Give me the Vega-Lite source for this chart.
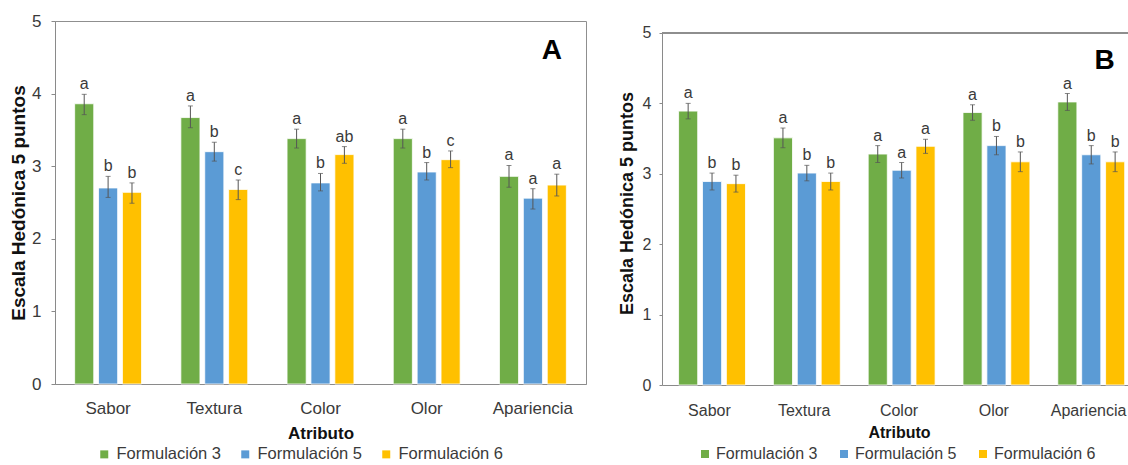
{
  "$schema": "https://vega.github.io/schema/vega-lite/v6.json",
  "background": "#ffffff",
  "padding": {"left": 9, "top": 11, "right": 0, "bottom": 0},
  "spacing": 31,
  "bounds": "full",
  "config": {
    "font": "Liberation Sans",
    "view": {"stroke": null},
    "axis": {
      "domainColor": "#8a8a8a",
      "tickColor": "#8a8a8a",
      "labelColor": "#3a3a3a",
      "titleColor": "#111111",
      "grid": false
    }
  },
  "datasets": {
    "panelA": [
      {"atributo": "Sabor", "formulacion": "Formulación 3", "media": 3.86, "inf": 3.71, "sup": 3.99, "letra": "a"},
      {"atributo": "Sabor", "formulacion": "Formulación 5", "media": 2.70, "inf": 2.57, "sup": 2.86, "letra": "b"},
      {"atributo": "Sabor", "formulacion": "Formulación 6", "media": 2.64, "inf": 2.49, "sup": 2.77, "letra": "b"},
      {"atributo": "Textura", "formulacion": "Formulación 3", "media": 3.67, "inf": 3.53, "sup": 3.83, "letra": "a"},
      {"atributo": "Textura", "formulacion": "Formulación 5", "media": 3.20, "inf": 3.07, "sup": 3.33, "letra": "b"},
      {"atributo": "Textura", "formulacion": "Formulación 6", "media": 2.68, "inf": 2.54, "sup": 2.81, "letra": "c"},
      {"atributo": "Color", "formulacion": "Formulación 3", "media": 3.38, "inf": 3.25, "sup": 3.51, "letra": "a"},
      {"atributo": "Color", "formulacion": "Formulación 5", "media": 2.77, "inf": 2.66, "sup": 2.90, "letra": "b"},
      {"atributo": "Color", "formulacion": "Formulación 6", "media": 3.16, "inf": 3.04, "sup": 3.27, "letra": "ab"},
      {"atributo": "Olor", "formulacion": "Formulación 3", "media": 3.38, "inf": 3.25, "sup": 3.51, "letra": "a"},
      {"atributo": "Olor", "formulacion": "Formulación 5", "media": 2.92, "inf": 2.81, "sup": 3.05, "letra": "b"},
      {"atributo": "Olor", "formulacion": "Formulación 6", "media": 3.09, "inf": 2.98, "sup": 3.21, "letra": "c"},
      {"atributo": "Apariencia", "formulacion": "Formulación 3", "media": 2.86, "inf": 2.71, "sup": 3.01, "letra": "a"},
      {"atributo": "Apariencia", "formulacion": "Formulación 5", "media": 2.56, "inf": 2.41, "sup": 2.69, "letra": "a"},
      {"atributo": "Apariencia", "formulacion": "Formulación 6", "media": 2.74, "inf": 2.59, "sup": 2.89, "letra": "a"}
    ],
    "panelB": [
      {"atributo": "Sabor", "formulacion": "Formulación 3", "media": 3.89, "inf": 3.78, "sup": 4.00, "letra": "a"},
      {"atributo": "Sabor", "formulacion": "Formulación 5", "media": 2.89, "inf": 2.77, "sup": 3.01, "letra": "b"},
      {"atributo": "Sabor", "formulacion": "Formulación 6", "media": 2.86, "inf": 2.74, "sup": 2.98, "letra": "b"},
      {"atributo": "Textura", "formulacion": "Formulación 3", "media": 3.51, "inf": 3.37, "sup": 3.65, "letra": "a"},
      {"atributo": "Textura", "formulacion": "Formulación 5", "media": 3.01, "inf": 2.90, "sup": 3.12, "letra": "b"},
      {"atributo": "Textura", "formulacion": "Formulación 6", "media": 2.89, "inf": 2.77, "sup": 3.01, "letra": "b"},
      {"atributo": "Color", "formulacion": "Formulación 3", "media": 3.28, "inf": 3.16, "sup": 3.40, "letra": "a"},
      {"atributo": "Color", "formulacion": "Formulación 5", "media": 3.05, "inf": 2.94, "sup": 3.16, "letra": "a"},
      {"atributo": "Color", "formulacion": "Formulación 6", "media": 3.39, "inf": 3.29, "sup": 3.49, "letra": "a"},
      {"atributo": "Olor", "formulacion": "Formulación 3", "media": 3.87, "inf": 3.76, "sup": 3.98, "letra": "a"},
      {"atributo": "Olor", "formulacion": "Formulación 5", "media": 3.40, "inf": 3.27, "sup": 3.53, "letra": "b"},
      {"atributo": "Olor", "formulacion": "Formulación 6", "media": 3.17, "inf": 3.03, "sup": 3.31, "letra": "b"},
      {"atributo": "Apariencia", "formulacion": "Formulación 3", "media": 4.02, "inf": 3.90, "sup": 4.14, "letra": "a"},
      {"atributo": "Apariencia", "formulacion": "Formulación 5", "media": 3.27, "inf": 3.14, "sup": 3.40, "letra": "b"},
      {"atributo": "Apariencia", "formulacion": "Formulación 6", "media": 3.17, "inf": 3.03, "sup": 3.31, "letra": "b"}
    ]
  },
  "resolve": {"legend": {"color": "independent"}, "scale": {"color": "independent"}},
  "hconcat": [
    {
      "width": 531,
      "height": 363,
      "view": {"stroke": "#8f8f8f", "strokeWidth": 1},
      "data": {"name": "panelA"},
      "layer": [
        {
          "mark": {"type": "bar", "stroke": "#ffffff", "strokeWidth": 0.8},
          "encoding": {
            "x": {"field": "atributo", "type": "nominal", "sort": ["Sabor", "Textura", "Color", "Olor", "Apariencia"],
              "scale": {"paddingInner": 0.37, "paddingOuter": 0.185},
              "axis": {"title": "Atributo", "labelAngle": 0, "ticks": false, "labelFontSize": 17, "labelPadding": 16,
                "titleFontSize": 17, "titleFontWeight": "bold", "titlePadding": 9}},
            "xOffset": {"field": "formulacion", "type": "nominal", "scale": {"paddingInner": 0.2}},
            "y": {"field": "media", "type": "quantitative", "scale": {"domain": [0, 5], "nice": false},
              "axis": {"title": "Escala Hedónica 5 puntos", "values": [0, 1, 2, 3, 4, 5], "format": "d", "tickSize": 4, "labelPadding": 10,
                "labelFontSize": 17, "titleFontSize": 19, "titleFontWeight": "bold", "titlePadding": 3}},
            "color": {"field": "formulacion", "type": "nominal",
              "scale": {"domain": ["Formulación 3", "Formulación 5", "Formulación 6"], "range": ["#70ad47", "#5b9bd5", "#ffc000"]},
              "legend": {"title": null, "orient": "none", "legendX": 41, "legendY": 425, "direction": "horizontal",
                "symbolType": "square", "symbolSize": 64, "symbolStrokeWidth": 0, "labelFontSize": 16.5, "labelColor": "#3a3a3a",
                "labelOffset": 4, "columnPadding": 15}}
          }
        },
        {
          "mark": {"type": "rule", "color": "#555555", "strokeWidth": 1},
          "encoding": {
            "x": {"field": "atributo", "type": "nominal", "sort": ["Sabor", "Textura", "Color", "Olor", "Apariencia"]},
            "xOffset": {"field": "formulacion", "type": "nominal"},
            "y": {"field": "inf", "type": "quantitative"},
            "y2": {"field": "sup"}
          }
        },
        {
          "mark": {"type": "tick", "color": "#555555", "thickness": 1, "size": 5},
          "encoding": {
            "x": {"field": "atributo", "type": "nominal", "sort": ["Sabor", "Textura", "Color", "Olor", "Apariencia"]},
            "xOffset": {"field": "formulacion", "type": "nominal"},
            "y": {"field": "inf", "type": "quantitative"}
          }
        },
        {
          "mark": {"type": "tick", "color": "#555555", "thickness": 1, "size": 5},
          "encoding": {
            "x": {"field": "atributo", "type": "nominal", "sort": ["Sabor", "Textura", "Color", "Olor", "Apariencia"]},
            "xOffset": {"field": "formulacion", "type": "nominal"},
            "y": {"field": "sup", "type": "quantitative"}
          }
        },
        {
          "mark": {"type": "text", "fontSize": 16, "color": "#3a3a3a", "baseline": "bottom", "dy": -2},
          "encoding": {
            "x": {"field": "atributo", "type": "nominal", "sort": ["Sabor", "Textura", "Color", "Olor", "Apariencia"]},
            "xOffset": {"field": "formulacion", "type": "nominal"},
            "y": {"field": "sup", "type": "quantitative"},
            "text": {"field": "letra"}
          }
        },
        {
          "data": {"values": [{"panel": "A"}]},
          "mark": {"type": "text", "fontSize": 28, "fontWeight": "bold", "color": "#000000", "dx": 19},
          "encoding": {
            "x": {"datum": "Apariencia"},
            "y": {"datum": 4.59},
            "text": {"field": "panel"}
          }
        }
      ]
    },
    {
      "width": 474,
      "height": 364,
      "data": {"name": "panelB"},
      "layer": [
        {
          "mark": {"type": "rule", "color": "#8f8f8f", "strokeWidth": 1},
          "encoding": {"y": {"datum": 5}}
        },
        {
          "mark": {"type": "bar", "stroke": "#ffffff", "strokeWidth": 0.8},
          "encoding": {
            "x": {"field": "atributo", "type": "nominal", "sort": ["Sabor", "Textura", "Color", "Olor", "Apariencia"],
              "scale": {"paddingInner": 0.35, "paddingOuter": 0.175},
              "axis": {"title": "Atributo", "labelAngle": 0, "ticks": false, "labelFontSize": 16, "labelPadding": 17,
                "titleFontSize": 16, "titleFontWeight": "bold", "titlePadding": 6}},
            "xOffset": {"field": "formulacion", "type": "nominal", "scale": {"paddingInner": 0.2}},
            "y": {"field": "media", "type": "quantitative", "scale": {"domain": [0, 5.17], "nice": false},
              "axis": {"title": "Escala Hedónica 5 puntos", "values": [0, 1, 2, 3, 4, 5], "format": "d", "tickSize": 3, "labelPadding": 8,
                "domainDash": [352, 60],
                "labelFontSize": 16, "titleFontSize": 18, "titleFontWeight": "bold", "titlePadding": 6}},
            "color": {"field": "formulacion", "type": "nominal",
              "scale": {"domain": ["Formulación 3", "Formulación 5", "Formulación 6"], "range": ["#70ad47", "#5b9bd5", "#ffc000"]},
              "legend": {"title": null, "orient": "none", "legendX": 35, "legendY": 425, "direction": "horizontal",
                "symbolType": "square", "symbolSize": 64, "symbolStrokeWidth": 0, "labelFontSize": 16, "labelColor": "#3a3a3a",
                "labelOffset": 3, "columnPadding": 18}}
          }
        },
        {
          "mark": {"type": "rule", "color": "#555555", "strokeWidth": 1},
          "encoding": {
            "x": {"field": "atributo", "type": "nominal", "sort": ["Sabor", "Textura", "Color", "Olor", "Apariencia"]},
            "xOffset": {"field": "formulacion", "type": "nominal"},
            "y": {"field": "inf", "type": "quantitative"},
            "y2": {"field": "sup"}
          }
        },
        {
          "mark": {"type": "tick", "color": "#555555", "thickness": 1, "size": 5},
          "encoding": {
            "x": {"field": "atributo", "type": "nominal", "sort": ["Sabor", "Textura", "Color", "Olor", "Apariencia"]},
            "xOffset": {"field": "formulacion", "type": "nominal"},
            "y": {"field": "inf", "type": "quantitative"}
          }
        },
        {
          "mark": {"type": "tick", "color": "#555555", "thickness": 1, "size": 5},
          "encoding": {
            "x": {"field": "atributo", "type": "nominal", "sort": ["Sabor", "Textura", "Color", "Olor", "Apariencia"]},
            "xOffset": {"field": "formulacion", "type": "nominal"},
            "y": {"field": "sup", "type": "quantitative"}
          }
        },
        {
          "mark": {"type": "text", "fontSize": 16, "color": "#3a3a3a", "baseline": "bottom", "dy": -2},
          "encoding": {
            "x": {"field": "atributo", "type": "nominal", "sort": ["Sabor", "Textura", "Color", "Olor", "Apariencia"]},
            "xOffset": {"field": "formulacion", "type": "nominal"},
            "y": {"field": "sup", "type": "quantitative"},
            "text": {"field": "letra"}
          }
        },
        {
          "data": {"values": [{"panel": "B"}]},
          "mark": {"type": "text", "fontSize": 28, "fontWeight": "bold", "color": "#000000", "dx": 16},
          "encoding": {
            "x": {"datum": "Apariencia"},
            "y": {"datum": 4.6},
            "text": {"field": "panel"}
          }
        }
      ]
    }
  ]
}
